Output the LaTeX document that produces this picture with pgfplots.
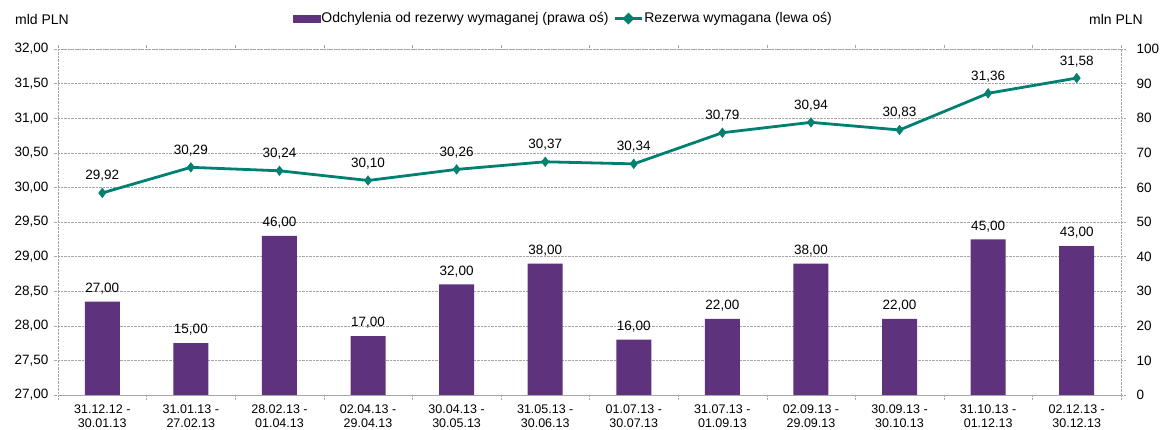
\documentclass[border=0pt]{standalone}
\usepackage{fontspec}
\setmainfont{Liberation Sans}
\usepackage{pgfplots}
\pgfplotsset{compat=1.18}
\definecolor{barpurple}{RGB}{94,50,124}
\definecolor{lineteal}{RGB}{0,128,112}

\begin{document}
\begin{tikzpicture}[font=\fontsize{13.5}{16}\selectfont]
\pgfplotsset{
  every axis/.append style={
    scale only axis, width=1063pt, height=346pt,
    xmin=-0.5, xmax=11.5,
    clip=false,
    /pgf/number format/assume math mode=true,
    /pgf/number format/use comma,
    tick label style={font=\fontsize{13.5}{16}\selectfont},
  },
}
% bars: right axis (mln PLN)
\begin{axis}[
  ymin=0, ymax=100, ytick distance=10,
  yticklabel pos=right, ytick pos=both,
  axis line style={gray!70, densely dotted},
  ymajorgrids, major grid style={gray!70, densely dotted},
  tick align=outside, major tick length=4pt, minor tick length=4pt,
  tick style={gray!70, densely dotted},
  xtick={0,...,11}, major x tick style={draw=none},
  minor xtick={-0.5,0.5,...,11.5},
  xticklabel style={align=center, yshift=-2pt, font=\fontsize{12.5}{14.5}\selectfont},
  xticklabels={{31.12.12 -\\30.01.13},{31.01.13 -\\27.02.13},{28.02.13 -\\01.04.13},{02.04.13 -\\29.04.13},
    {30.04.13 -\\30.05.13},{31.05.13 -\\30.06.13},{01.07.13 -\\30.07.13},{31.07.13 -\\01.09.13},
    {02.09.13 -\\29.09.13},{30.09.13 -\\30.10.13},{31.10.13 -\\01.12.13},{02.12.13 -\\30.12.13}},
  yticklabel style={xshift=8pt},
]
\addplot[ybar, bar width=35pt, fill=barpurple, draw=none,
  nodes near coords={\pgfmathprintnumber[fixed,fixed zerofill,precision=2]{\pgfplotspointmeta}},
  every node near coord/.append style={font=\fontsize{13.5}{16}\selectfont, text=black, yshift=4pt}]
  coordinates {(0,27) (1,15) (2,46) (3,17) (4,32) (5,38) (6,16) (7,22) (8,38) (9,22) (10,45) (11,43)};
\node[anchor=base, font=\fontsize{14}{16}\selectfont] at (rel axis cs:1,1) [xshift=-5pt, yshift=24pt] {mln PLN};
\coordinate (ll) at (rel axis cs:0,0);
\coordinate (ur) at (rel axis cs:1,1);
\end{axis}
% line: left axis (mld PLN)
\begin{axis}[
  ymin=27, ymax=32, ytick distance=0.5,
  axis line style={draw=none},
  xtick=\empty, ytick pos=left,
  ytick style={draw=none},
  yticklabel style={/pgf/number format/fixed, /pgf/number format/fixed zerofill, /pgf/number format/precision=2, xshift=-6pt},
  legend style={draw=none, fill=none, at={(rel axis cs:0.475,1.088)}, anchor=center,
    legend columns=2, font=\fontsize{14}{16}\selectfont,
    nodes={inner sep=1pt},
    /tikz/every even column/.append style={column sep=4pt}},
  legend cell align=left,
]
\addlegendimage{legend image code/.code={\fill[barpurple] (0pt,-3.5pt) rectangle (27pt,3.5pt);}}
\addlegendentry{Odchylenia od rezerwy wymaganej (prawa oś)}
\addplot[lineteal, line width=2.8pt, mark=diamond*, mark size=4.8pt,
  mark options={line width=0.5pt},
  nodes near coords={\pgfmathprintnumber[fixed,fixed zerofill,precision=2]{\pgfplotspointmeta}},
  every node near coord/.append style={font=\fontsize{13.5}{16}\selectfont, text=black, yshift=8pt, inner sep=3pt},
  legend image code/.code={\draw[lineteal, line width=2.8pt] (0pt,0pt) -- (27pt,0pt);
    \fill[lineteal] (13.5pt,0pt) +(-4pt,0) -- +(0,4pt) -- +(4pt,0) -- +(0,-4pt) -- cycle;}]
  coordinates {(0,29.92) (1,30.29) (2,30.24) (3,30.10) (4,30.26) (5,30.37) (6,30.34) (7,30.79) (8,30.94) (9,30.83) (10,31.36) (11,31.58)};
\addlegendentry{Rezerwa wymagana (lewa oś)}
\node[anchor=base, font=\fontsize{14}{16}\selectfont] at (rel axis cs:0,1) [xshift=-16pt, yshift=24pt] {mld PLN};
\end{axis}
\pgfresetboundingbox
\path[use as bounding box] ([shift={(-58pt,-35pt)}]ll) rectangle ([shift={(41pt,49pt)}]ur);
\end{tikzpicture}
\end{document}
